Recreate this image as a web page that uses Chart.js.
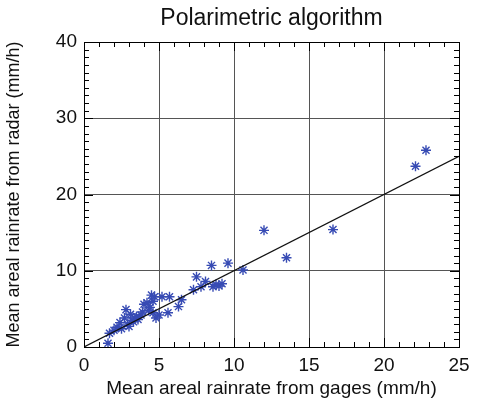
<!DOCTYPE html>
<html>
<head>
<meta charset="utf-8">
<script src="https://cdn.jsdelivr.net/npm/chart.js@4.4.0/dist/chart.umd.min.js"></script>
<style>
  body { margin: 0; background: #fff; }
</style>
</head>
<body>
<canvas id="myChart" width="479" height="400"></canvas>
<script>
// gage rainrate (x) vs radar rainrate (y), mm/h
var gages = [1.6, 1.7, 2.0, 2.2, 2.4, 2.5, 2.7, 2.8, 2.9, 3.0, 3.1, 3.2, 3.3, 3.4, 3.5, 3.6,
             3.8, 3.9, 4.0, 4.2, 4.3, 4.4, 4.5, 4.6, 4.6, 4.7, 4.8, 5.0, 5.2, 5.6, 5.7, 6.3,
             6.5, 7.3, 7.5, 7.8, 8.1, 8.5, 8.6, 8.8, 9.0, 9.2, 9.6, 10.6, 12.0, 13.5, 16.6,
             22.1, 22.8];
var radar = [0.5, 1.8, 2.2, 2.6, 3.2, 2.4, 3.8, 4.9, 3.0, 2.7, 4.3, 3.5, 3.3, 3.8, 4.0, 3.6,
             4.2, 4.6, 5.6, 5.8, 4.8, 5.2, 6.8, 4.5, 6.0, 6.6, 3.8, 4.2, 6.6, 4.5, 6.6, 5.3,
             6.2, 7.5, 9.2, 7.9, 8.6, 10.7, 7.9, 8.2, 8.0, 8.3, 11.0, 10.1, 15.3, 11.7, 15.4,
             23.7, 25.8];
var oneToOne = [0, 25];
var xTicks = [0, 5, 10, 15, 20, 25];
var yTicks = [0, 10, 20, 30, 40];
var titleText = 'Polarimetric algorithm';

var points = gages.map(function(g, i) { return {x: g, y: radar[i]}; });
var linePts = oneToOne.map(function(v) { return {x: v, y: v}; });

var FONT = 'Liberation Sans, Arial, sans-serif';

// minor ticks + top/right frame, IDL style, and title centred over the plot
var frame = {
    id: 'frame',
    afterDatasetsDraw: function(chart) {
        var c = chart.ctx, a = chart.chartArea;
        var xs = chart.scales.x, ys = chart.scales.y;
        c.save();
        c.strokeStyle = '#000';
        c.lineWidth = 1;
        c.strokeRect(a.left + 0.5, a.top + 0.5, a.right - a.left, a.bottom - a.top);
        c.beginPath();
        for (var v = 0; v <= 25; v++) {
            var px = Math.round(xs.getPixelForValue(v)) + 0.5;
            var len = v % 5 === 0 ? 9 : 5;
            c.moveTo(px, a.bottom); c.lineTo(px, a.bottom - len);
            c.moveTo(px, a.top); c.lineTo(px, a.top + len);
        }
        for (var w = 0; w <= 40; w++) {
            var py = Math.round(ys.getPixelForValue(w)) + 0.5;
            var l2 = w % 10 === 0 ? 9 : 5;
            c.moveTo(a.left, py); c.lineTo(a.left + l2, py);
            c.moveTo(a.right, py); c.lineTo(a.right - l2, py);
        }
        c.stroke();

        c.fillStyle = '#111';
        c.font = '23px ' + FONT;
        c.textAlign = 'center';
        c.textBaseline = 'middle';
        c.fillText(titleText, (a.left + a.right) / 2, 19);
        c.restore();
    }
};

var ctx = document.getElementById('myChart').getContext('2d');
var chart = new Chart(ctx, {
    type: 'scatter',
    data: {
        datasets: [{
            label: 'radar vs gages',
            data: points,
            pointStyle: 'star',
            pointRadius: 5,
            borderWidth: 1.4,
            borderColor: 'rgb(55, 75, 180)',
            backgroundColor: 'rgb(55, 75, 180)',
            order: 2
        }, {
            label: '1:1',
            type: 'line',
            data: linePts,
            borderColor: '#111',
            borderWidth: 1.2,
            pointRadius: 0,
            fill: false,
            order: 1
        }]
    },
    options: {
        responsive: false,
        animation: false,
        layout: {
            padding: { left: 0, right: 20, top: 42, bottom: 0 }
        },
        plugins: {
            legend: { display: false },
            tooltip: { enabled: false },
            title: { display: false }
        },
        scales: {
            x: {
                type: 'linear',
                min: 0, max: 25,
                afterBuildTicks: function(s) { s.ticks = xTicks.map(function(v) { return {value: v}; }); },
                afterFit: function(s) { s.height = 53; },
                grid: { color: '#555', lineWidth: 1, drawTicks: false },
                border: { color: '#000' },
                ticks: {
                    color: '#111', padding: 7, autoSkip: false, maxRotation: 0,
                    font: { family: FONT, size: 19 }
                },
                title: {
                    display: true,
                    text: 'Mean areal rainrate from gages (mm/h)',
                    color: '#111',
                    padding: { top: -2, bottom: 0 },
                    font: { family: FONT, size: 19 }
                }
            },
            y: {
                type: 'linear',
                min: 0, max: 40,
                afterBuildTicks: function(s) { s.ticks = yTicks.map(function(v) { return {value: v}; }); },
                afterFit: function(s) { s.width = 84; },
                grid: { color: '#555', lineWidth: 1, drawTicks: false },
                border: { color: '#000' },
                ticks: {
                    color: '#111', padding: 7, autoSkip: false,
                    font: { family: FONT, size: 19 }
                },
                title: {
                    display: true,
                    text: 'Mean areal rainrate from radar (mm/h)',
                    color: '#111',
                    padding: { top: 3, bottom: 0 },
                    font: { family: FONT, size: 18 }
                }
            }
        }
    },
    plugins: [frame]
});
</script>
</body>
</html>
